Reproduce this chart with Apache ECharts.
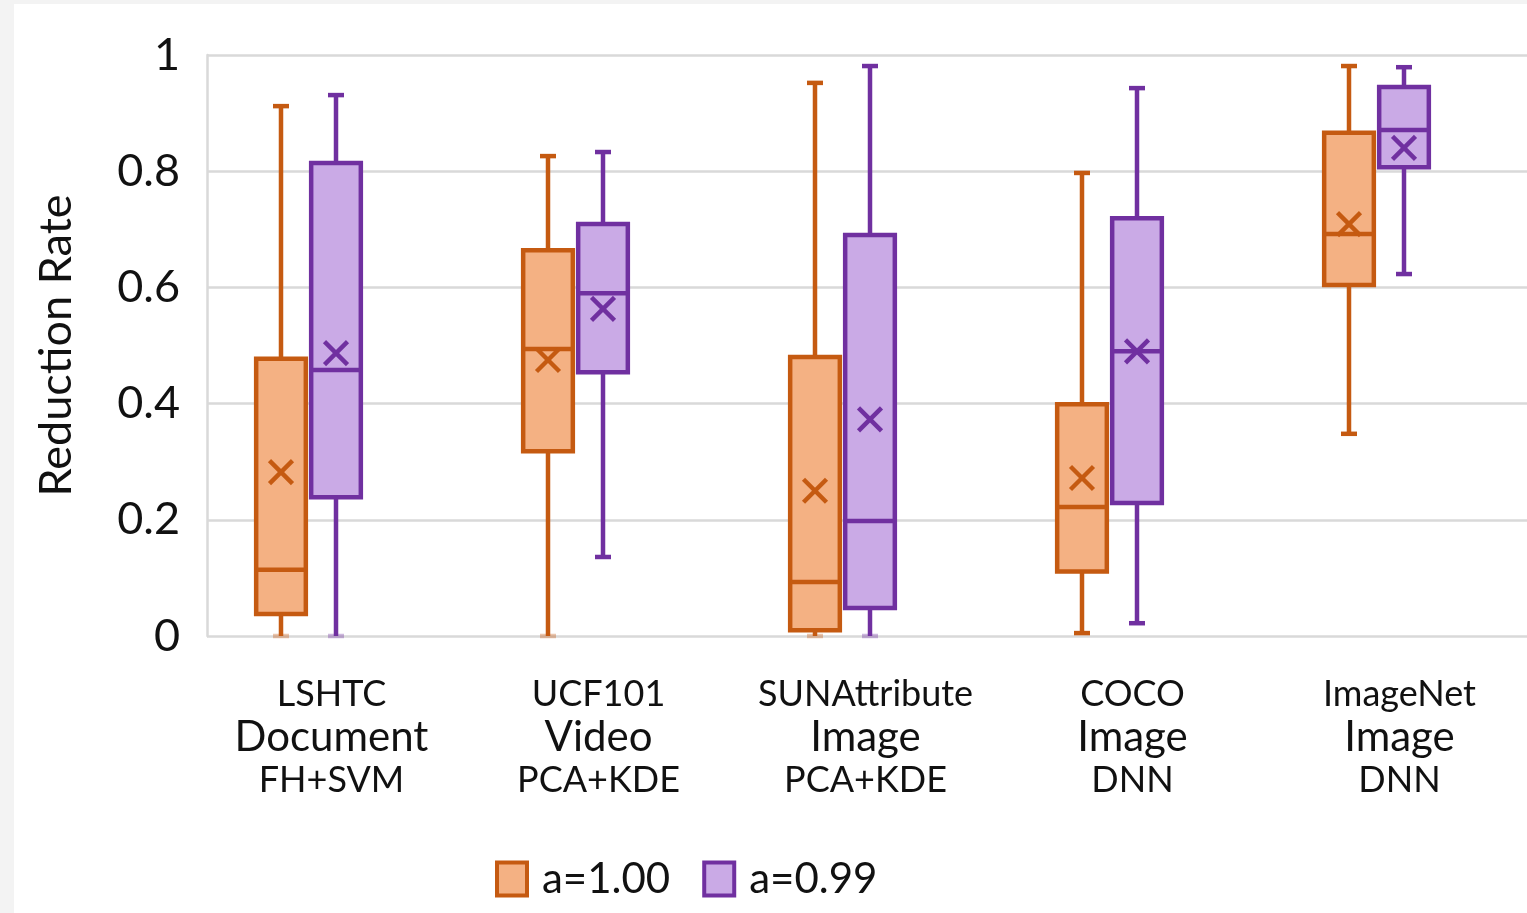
<!DOCTYPE html>
<html>
<head>
<meta charset="utf-8">
<script src="https://cdn.jsdelivr.net/npm/echarts@6/dist/echarts.min.js"></script>
<style>html,body{margin:0;padding:0;background:#f3f3f3;}#c{width:1527px;height:913px;}</style>
</head>
<body>
<div id="c"></div>
<script>
const catTop = ['LSHTC', 'UCF101', 'SUNAttribute', 'COCO', 'ImageNet'];
const catMid = ['Document', 'Video', 'Image', 'Image', 'Image'];
const catBot = ['FH+SVM', 'PCA+KDE', 'PCA+KDE', 'DNN', 'DNN'];
const yTicks = [0, 0.2, 0.4, 0.6, 0.8, 1];
// [min, q1, median, q3, max]
const boxA = [[0, 0.038, 0.114, 0.477, 0.912], [0, 0.318, 0.494, 0.664, 0.826], [0, 0.010, 0.093, 0.480, 0.952], [0.005, 0.111, 0.222, 0.399, 0.797], [0.348, 0.604, 0.692, 0.866, 0.981]];
const meanA = [0.282, 0.475, 0.250, 0.272, 0.709];
const boxB = [[0, 0.239, 0.458, 0.814, 0.931], [0.136, 0.454, 0.590, 0.709, 0.833], [0, 0.048, 0.198, 0.690, 0.981], [0.022, 0.229, 0.490, 0.719, 0.943], [0.623, 0.807, 0.871, 0.945, 0.979]];
const meanB = [0.487, 0.563, 0.373, 0.490, 0.840];
const nameA = 'a=1.00', nameB = 'a=0.99';

const orange = {stroke: '#C55A11', fill: '#F4B183'};
const purple = {stroke: '#7030A0', fill: '#CAAAE6'};
const FONT = 'Lato';

function toData(box, mean) {
  return box.map((b, i) => [i, b[0], b[1], b[2], b[3], b[4], mean[i]]);
}

function makeRender(side, col) {
  return function (params, api) {
    const xi = api.value(0);
    const bw = api.size([1, 0])[0];
    const cx = api.coord([xi, 0])[0] + side * bw * 0.103;
    const hw = bw * 0.093;
    const Y = v => api.coord([xi, v])[1];
    const vmin = api.value(1);
    const mn = Y(vmin), q1 = Y(api.value(2)), md = Y(api.value(3)), q3 = Y(api.value(4)), mx = Y(api.value(5)), me = Y(api.value(6));
    const capW = 8, xs = 11.5;
    const ls = {stroke: col.stroke, lineWidth: 4.5, lineCap: 'butt'};
    const line = (x1, y1, x2, y2, extra) => ({type: 'line', shape: {x1, y1, x2, y2}, style: Object.assign({}, ls, extra || {})});
    return {
      type: 'group',
      children: [
        line(cx, q3, cx, mx),
        line(cx, q1, cx, mn),
        line(cx - capW, mx, cx + capW, mx),
        line(cx - capW, mn, cx + capW, mn, vmin === 0 ? {opacity: 0.35} : {}),
        {type: 'rect', shape: {x: cx - hw, y: q3, width: 2 * hw, height: q1 - q3}, style: {fill: col.fill, stroke: col.stroke, lineWidth: 4.5}},
        line(cx - hw, md, cx + hw, md),
        line(cx - xs, me - xs, cx + xs, me + xs),
        line(cx - xs, me + xs, cx + xs, me - xs)
      ]
    };
  };
}

const chart = echarts.init(document.getElementById('c'), null, {renderer: 'canvas'});
chart.setOption({
  backgroundColor: '#f3f3f3',
  animation: false,
  graphic: [{type: 'rect', left: 14, top: 4, shape: {width: 1513, height: 909}, style: {fill: '#ffffff'}, z: -10}],
  grid: [
    {left: 207, right: 0, top: 55, height: 581},
    {left: 175, width: 1335, top: 55, height: 581}
  ],
  xAxis: [
    {gridIndex: 0, type: 'value', show: false, min: 0, max: 1},
    {
      gridIndex: 1, type: 'category', data: catTop, boundaryGap: true,
      axisLine: {show: false}, axisTick: {show: false}, splitLine: {show: false},
      axisLabel: {
        interval: 0, margin: 37, padding: [0, 0, 0, 46], color: '#111', fontFamily: FONT,
        formatter: (v, i) => '{a|' + catTop[i] + '}\n{b|' + catMid[i] + '}\n{c|' + catBot[i] + '}',
        rich: {
          a: {fontSize: 36, lineHeight: 43, fontFamily: FONT, color: '#111'},
          b: {fontSize: 42, lineHeight: 43, fontFamily: FONT, color: '#111'},
          c: {fontSize: 36, lineHeight: 43, fontFamily: FONT, color: '#111'}
        }
      }
    }
  ],
  yAxis: [
    {
      gridIndex: 0, type: 'value', min: 0, max: 1, interval: 0.2,
      name: 'Reduction Rate', nameLocation: 'middle', nameGap: 128,
      nameTextStyle: {fontSize: 45, fontFamily: FONT, color: '#111'},
      axisLine: {show: true, lineStyle: {color: '#d9d9d9', width: 2.5}},
      axisTick: {show: false},
      splitLine: {show: true, lineStyle: {color: '#d9d9d9', width: 2.5}},
      axisLabel: {margin: 27, fontSize: 45, fontFamily: FONT, color: '#111', formatter: v => yTicks.indexOf(v) >= 0 ? String(v) : ''}
    },
    {gridIndex: 1, type: 'value', min: 0, max: 1, show: false}
  ],
  legend: {
    left: 490, top: 853, itemWidth: 30, itemHeight: 33, itemGap: 32,
    textStyle: {fontSize: 42, fontFamily: FONT, color: '#111', padding: [0, 0, 0, 10]},
    data: [
      {name: nameA, icon: 'rect', itemStyle: {color: orange.fill, borderColor: orange.stroke, borderWidth: 4}},
      {name: nameB, icon: 'rect', itemStyle: {color: purple.fill, borderColor: purple.stroke, borderWidth: 4}}
    ]
  },
  series: [
    {name: nameA, type: 'custom', xAxisIndex: 1, yAxisIndex: 1, data: toData(boxA, meanA), encode: {x: 0, y: [1, 2, 3, 4, 5, 6]}, renderItem: makeRender(-1, orange), itemStyle: {color: orange.fill, borderColor: orange.stroke}, clip: false},
    {name: nameB, type: 'custom', xAxisIndex: 1, yAxisIndex: 1, data: toData(boxB, meanB), encode: {x: 0, y: [1, 2, 3, 4, 5, 6]}, renderItem: makeRender(1, purple), itemStyle: {color: purple.fill, borderColor: purple.stroke}, clip: false}
  ]
});
</script>
</body>
</html>
